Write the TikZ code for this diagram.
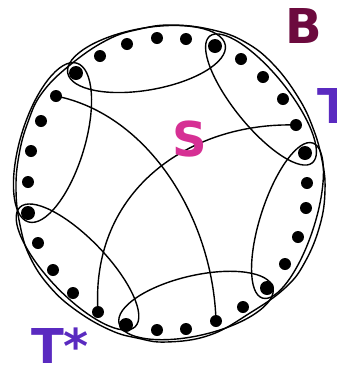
\documentclass[tikz,border=0pt]{standalone}
\usepackage{fontspec}
\newfontfamily\labelfont{DejaVu Sans}
\definecolor{bcol}{RGB}{108,10,62}
\definecolor{tcol}{RGB}{90,42,192}
\definecolor{scol}{RGB}{214,48,148}
\begin{document}
\begin{tikzpicture}[x=1pt,y=-1pt,
  dot/.style={circle,fill=black,draw=none,inner sep=0pt,minimum size=12pt},
  cornerdot/.style={dot,minimum size=14pt},
  group/.style={draw=black,line width=1.4pt},
  link/.style={draw=black,line width=1.4pt},
  lbl/.style={font=\labelfont\bfseries\fontsize{48}{48}\selectfont,inner sep=0pt}]
\useasboundingbox (0,0) rectangle (337,365);

% outer boundary
\draw[group] plot[smooth cycle,tension=0.7] coordinates {
 (173,25) (213,30) (245,42) (273,64) (298,97) (313,128) (322,160) (325,190)
 (320,225) (305,262) (285,288) (250,313) (210,335) (167,342) (137,338)
 (110,330) (77,311) (50,287) (30,257) (20,225) (16,190) (19,155) (28,122)
 (42,93) (70,65) (107,40) (140,29)};

% six groups
\draw[group,rotate around={10:(146.5,59)}] (146.5,59) ellipse (80pt and 31pt);
\draw[group,rotate around={-51:(261,99.5)}] (261,99.5) ellipse (81.5pt and 27pt);
\draw[group,rotate around={73:(52.5,142.5)}] (52.5,142.5) ellipse (83pt and 32pt);
\draw[group,rotate around={-46:(77.5,267)}] (77.5,267) ellipse (83pt and 29pt);
\draw[group,rotate around={13:(196,305.5)}] (196,305.5) ellipse (79pt and 30pt);
\draw[group,rotate around={72:(287.5,220.5)}] (287.5,220.5) ellipse (81.5pt and 27pt);

% dots
\node[cornerdot] (c1) at (76,73) {};
\node[dot] (t1) at (100,56) {};
\node[dot] (t2) at (127,44) {};
\node[dot] (t3) at (157,38) {};
\node[dot] (t4) at (186,39) {};
\node[cornerdot] (c2) at (215,46) {};
\node[dot] (r1) at (241,59) {};
\node[dot] (r2) at (263,77) {};
\node[dot] (r3) at (283,99) {};
\node[dot] (r4) at (296,125) {};
\node[cornerdot] (c3) at (305,153) {};
\node[dot] (r5) at (307,183) {};
\node[dot] (r6) at (306,208) {};
\node[dot] (r7) at (298,237) {};
\node[dot] (r8) at (285,264) {};
\node[cornerdot] (c4) at (267,288) {};
\node[dot] (b1) at (243,307) {};
\node[dot] (b2) at (216,321) {};
\node[dot] (b3) at (186,329) {};
\node[dot] (b4) at (157,330) {};
\node[cornerdot] (c5) at (126,325) {};
\node[dot] (l1) at (98,312) {};
\node[dot] (l2) at (73,293) {};
\node[dot] (l3) at (53,270) {};
\node[dot] (l4) at (38,243) {};
\node[cornerdot] (c6) at (28,213) {};
\node[dot] (l5) at (28,182) {};
\node[dot] (l6) at (31,151) {};
\node[dot] (l7) at (41,121) {};
\node[dot] (l8) at (56,96) {};

% connectors
\draw[link] (l8.center) .. controls (150,115) and (213,220) .. (b2.center);
\draw[link] (r4.center) .. controls (190,122) and (90,190) .. (l1.center);

% labels
\node[lbl,text=bcol,anchor=base] (labB) at (304,43) {B};
\node[lbl,text=scol,anchor=base] (labS) at (190,156) {S};
\node[lbl,text=tcol,anchor=base west] (labT) at (317,123) {T};
\node[lbl,text=tcol,anchor=base west] (labTs) at (31,363) {T*};
\end{tikzpicture}
\end{document}
